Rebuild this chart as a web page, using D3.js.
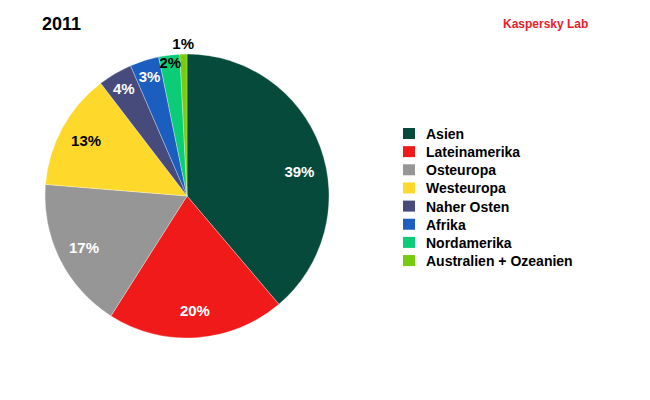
<!DOCTYPE html>
<html lang="de">
  <head>
    <meta charset="utf-8" />
    <title>2011</title>
    <script src="https://d3js.org/d3.v7.min.js"></script>
    <style>
      body { margin: 0; background: #fff; }
      text { font-family: "Liberation Sans", Arial, sans-serif; font-weight: bold; }
    </style>
  </head>
  <body>
    <div id="chart"></div>
    <script>
      // data
      const regions = [
        "Asien",
        "Lateinamerika",
        "Osteuropa",
        "Westeuropa",
        "Naher Osten",
        "Afrika",
        "Nordamerika",
        "Australien + Ozeanien",
      ];
      const shares = [38.8, 20.2, 17.3, 13.3, 3.9, 3.3, 2.4, 0.8];
      const shareLabels = ["39%", "20%", "17%", "13%", "4%", "3%", "2%", "1%"];
      const colors = [
        "#064a3c", "#f11a1b", "#969696", "#fed92b",
        "#474b7b", "#1b5ebf", "#0ccd77", "#78cc10",
      ];
      const darkLabel = ["#fff", "#fff", "#fff", "#000", "#fff", "#fff", "#000", "#000"];

      const cW = 650, cH = 400;
      const cx = 187, cy = 196, r = 142;

      const svg = d3.select("#chart").append("svg")
        .attr("width", cW).attr("height", cH);

      svg.append("text").attr("x", 42).attr("y", 30)
        .attr("font-size", 18).attr("fill", "#000").text("2011");

      svg.append("text").attr("x", 503).attr("y", 28)
        .attr("font-size", 12).attr("fill", "#e8202a").text("Kaspersky Lab");

      const pie = d3.pie().sort(null).value((d) => d);
      const arcs = pie(shares);
      const arc = d3.arc().innerRadius(0).outerRadius(r);

      const g = svg.append("g").attr("transform", `translate(${cx},${cy})`);
      g.selectAll("path").data(arcs).enter().append("path")
        .attr("d", arc)
        .attr("fill", (d, i) => colors[i])
        .attr("stroke", "#fff").attr("stroke-width", 0.3);

      // label radius grows for the thin slices, the smallest sits outside
      const labelR = (v) => (v >= 10 ? 115 : v >= 3 ? 125 : v >= 2 ? 134 : 152);
      const labelA = (d) => (d.startAngle + d.endAngle) / 2 + (d.index === 0 ? 0.14 : 0);
      g.selectAll("text.lbl").data(arcs).enter().append("text")
        .attr("class", "lbl")
        .attr("x", (d) => Math.sin(labelA(d)) * labelR(d.value))
        .attr("y", (d) => -Math.cos(labelA(d)) * labelR(d.value))
        .attr("dy", "0.36em")
        .attr("text-anchor", "middle")
        .attr("font-size", 15)
        .attr("fill", (d, i) => darkLabel[i])
        .text((d, i) => shareLabels[i]);

      // legend
      const legend = svg.append("g").attr("transform", "translate(403,134)");
      const rowH = 18.15;
      const item = legend.selectAll("g").data(regions).enter().append("g")
        .attr("transform", (d, i) => `translate(0,${i * rowH})`);
      item.append("rect").attr("x", 0).attr("y", -6)
        .attr("width", 12).attr("height", 11)
        .attr("fill", (d, i) => colors[i]);
      item.append("text").attr("x", 23).attr("y", 0).attr("dy", "0.36em")
        .attr("font-size", 14).attr("fill", "#000").text((d) => d);
    </script>
  </body>
</html>
